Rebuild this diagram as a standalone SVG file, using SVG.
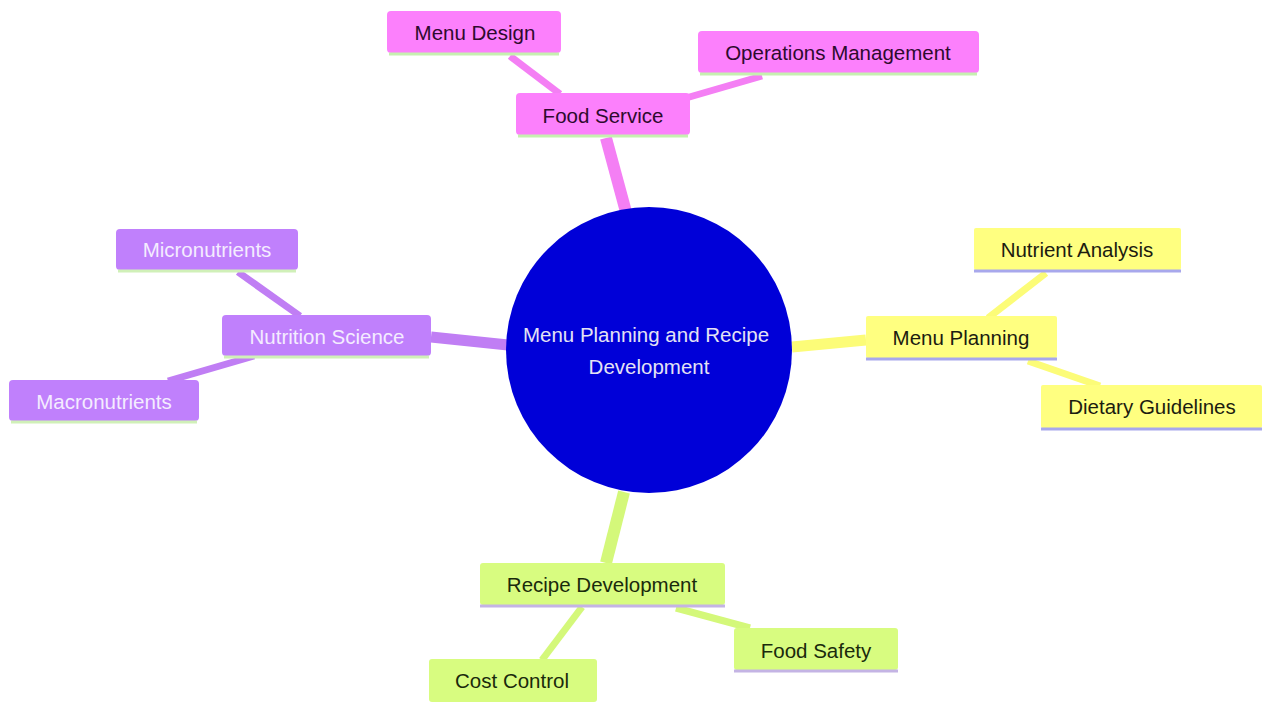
<svg xmlns="http://www.w3.org/2000/svg" width="1262" height="702" viewBox="0 0 1262 702">
<style>
.lbl{font-family:"Liberation Sans",Arial,sans-serif;font-size:20.5px;text-anchor:middle;dominant-baseline:central}
.pink rect.b{fill:#fc80fc}
.pink line.u{stroke:#c6f0b0}
.pink text{fill:#2e0a2e}
.purp rect.b{fill:#c080fc}
.purp line.u{stroke:#d0f0b8}
.purp text{fill:#f4ecff}
.yel rect.b{fill:#ffff80}
.yel line.u{stroke:#a8a8ec}
.yel text{fill:#1c1c10}
.grn rect.b{fill:#d8fc80}
.grn line.u{stroke:#c4b4e4}
.grn text{fill:#1a2a0c}
line.u{stroke-width:3}
.e{stroke-linecap:butt;fill:none}
</style>
<rect width="1262" height="702" fill="#ffffff"/>
<g id="connectors">
<line class="e" x1="626" y1="212" x2="606" y2="138" stroke="#f47ff4" stroke-width="12"/>
<line class="e" x1="508" y1="345" x2="431" y2="337" stroke="#c07ef4" stroke-width="11"/>
<line class="e" x1="792" y1="347" x2="866" y2="340" stroke="#fcfc78" stroke-width="11"/>
<line class="e" x1="624" y1="492" x2="606" y2="563" stroke="#d4f87a" stroke-width="12"/>
<line class="e" x1="510" y1="56" x2="560" y2="94" stroke="#f47ff4" stroke-width="7"/>
<line class="e" x1="762" y1="76" x2="686" y2="98" stroke="#f47ff4" stroke-width="7"/>
<line class="e" x1="238" y1="272" x2="300" y2="316" stroke="#c07ef4" stroke-width="7"/>
<line class="e" x1="168" y1="381" x2="254" y2="356" stroke="#c07ef4" stroke-width="7"/>
<line class="e" x1="1046" y1="273" x2="988" y2="318" stroke="#fcfc78" stroke-width="7"/>
<line class="e" x1="1100" y1="386" x2="1028" y2="361" stroke="#fcfc78" stroke-width="7"/>
<line class="e" x1="542" y1="660" x2="582" y2="607" stroke="#d4f87a" stroke-width="7"/>
<line class="e" x1="750" y1="628" x2="676" y2="608" stroke="#d4f87a" stroke-width="7"/>
</g>
<g id="root">
<circle cx="649" cy="350" r="143" fill="#0000d8"/>
<text class="lbl" x="646" y="334" fill="#e4e2f4">Menu Planning and Recipe</text>
<text class="lbl" x="649" y="366" fill="#e4e2f4">Development</text>
</g>
<g id="food-service" class="pink">
<rect class="b" x="516" y="93" width="174" height="42" rx="4"/>
<line class="u" x1="518" y1="136" x2="688" y2="136"/>
<text class="lbl" x="603" y="115">Food Service</text>
</g>
<g id="menu-design" class="pink">
<rect class="b" x="387" y="11" width="174" height="42" rx="4"/>
<line class="u" x1="389" y1="54" x2="559" y2="54"/>
<text class="lbl" x="475" y="32">Menu Design</text>
</g>
<g id="operations-management" class="pink">
<rect class="b" x="698" y="31" width="281" height="42" rx="4"/>
<line class="u" x1="700" y1="74" x2="977" y2="74"/>
<text class="lbl" x="838" y="52">Operations Management</text>
</g>
<g id="nutrition-science" class="purp">
<rect class="b" x="222" y="315" width="209" height="41" rx="4"/>
<line class="u" x1="224" y1="357" x2="429" y2="357"/>
<text class="lbl" x="327" y="336">Nutrition Science</text>
</g>
<g id="micronutrients" class="purp">
<rect class="b" x="116" y="229" width="182" height="41" rx="4"/>
<line class="u" x1="118" y1="271" x2="296" y2="271"/>
<text class="lbl" x="207" y="249">Micronutrients</text>
</g>
<g id="macronutrients" class="purp">
<rect class="b" x="9" y="380" width="190" height="41" rx="4"/>
<line class="u" x1="11" y1="422" x2="197" y2="422"/>
<text class="lbl" x="104" y="401">Macronutrients</text>
</g>
<g id="menu-planning" class="yel">
<rect class="b" x="866" y="316" width="191" height="42" rx="2"/>
<line class="u" x1="866" y1="359" x2="1057" y2="359"/>
<text class="lbl" x="961" y="337">Menu Planning</text>
</g>
<g id="nutrient-analysis" class="yel">
<rect class="b" x="974" y="228" width="207" height="42" rx="2"/>
<line class="u" x1="974" y1="271" x2="1181" y2="271"/>
<text class="lbl" x="1077" y="249">Nutrient Analysis</text>
</g>
<g id="dietary-guidelines" class="yel">
<rect class="b" x="1041" y="385" width="221" height="43" rx="2"/>
<line class="u" x1="1041" y1="429" x2="1262" y2="429"/>
<text class="lbl" x="1152" y="406">Dietary Guidelines</text>
</g>
<g id="recipe-development" class="grn">
<rect class="b" x="480" y="563" width="245" height="42" rx="3"/>
<line class="u" x1="480" y1="606" x2="725" y2="606"/>
<text class="lbl" x="602" y="584">Recipe Development</text>
</g>
<g id="cost-control" class="grn">
<rect class="b" x="429" y="659" width="168" height="43" rx="3"/>
<text class="lbl" x="512" y="680">Cost Control</text>
</g>
<g id="food-safety" class="grn">
<rect class="b" x="734" y="628" width="164" height="42" rx="3"/>
<line class="u" x1="734" y1="671" x2="898" y2="671"/>
<text class="lbl" x="816" y="650">Food Safety</text>
</g>
</svg>
